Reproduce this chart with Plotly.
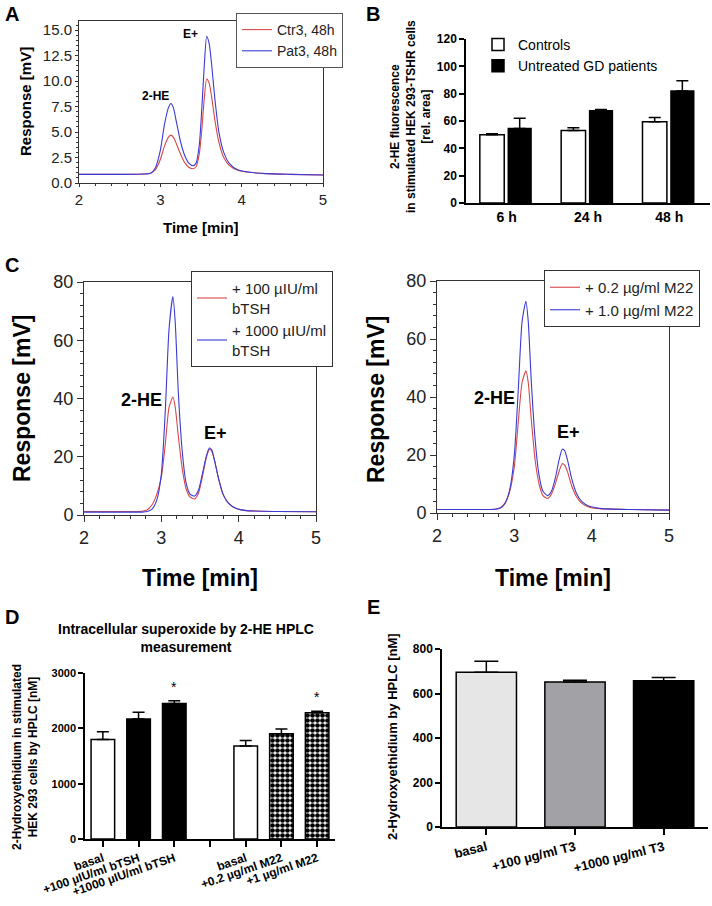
import plotly.graph_objects as go

W, H = 712, 906
FONT = "Arial, Liberation Sans, sans-serif"

# ---------------- DATA ----------------
# Panel A chromatogram (time in min, response in mV)
A_time = [2.0, 2.5, 2.8, 2.88, 2.94, 3.0, 3.05, 3.1, 3.13, 3.16, 3.2, 3.25, 3.3, 3.35, 3.4,
          3.44, 3.48, 3.51, 3.54, 3.57, 3.6, 3.63, 3.67, 3.72, 3.78, 3.85, 3.95, 4.1, 4.3, 4.6, 5.0]
A_ctr = [0.85, 0.85, 0.88, 0.95, 1.3, 2.3, 3.6, 4.5, 4.7, 4.5, 3.8, 2.8, 2.0, 1.55, 1.4,
         1.6, 2.9, 5.2, 8.3, 10.2, 9.8, 8.5, 6.2, 4.0, 2.5, 1.7, 1.25, 1.05, 0.92, 0.85, 0.78]
A_pat = [0.85, 0.85, 0.88, 0.95, 1.5, 3.2, 5.7, 7.4, 7.8, 7.4, 5.9, 4.0, 2.7, 1.95, 1.7,
         1.95, 3.8, 7.3, 11.5, 14.4, 13.7, 11.7, 8.3, 5.0, 3.0, 1.9, 1.3, 1.05, 0.92, 0.85, 0.78]
A_names = ["Ctr3, 48h", "Pat3, 48h"]

# Panel B
B_cats = ["6 h", "24 h", "48 h"]
B_ctrl = [50, 53, 59.5]
B_ctrl_err = [0.6, 2, 3]
B_pat = [54.5, 67.5, 82]
B_pat_err = [7.5, 1, 7.5]
B_names = ["Controls", "Untreated GD patients"]

# Panel C left (bTSH)
C1_time = [2.0, 2.5, 2.75, 2.82, 2.88, 2.94, 3.0, 3.05, 3.1, 3.15, 3.18, 3.22, 3.27, 3.32, 3.37,
           3.43, 3.48, 3.53, 3.58, 3.62, 3.65, 3.69, 3.74, 3.8, 3.87, 3.97, 4.1, 4.5, 5.0]
C1_low = [1.2, 1.2, 1.3, 1.8, 3.5, 7.0, 13, 24, 37, 40.5, 37, 27, 16, 9, 6.2,
          5.5, 7.5, 13, 19.5, 22.5, 22, 18.5, 12.5, 7.0, 4.0, 2.2, 1.5, 1.2, 1.1]
C1_high = [1.0, 1.0, 1.0, 1.2, 2.0, 5.0, 14, 35, 64, 75, 66, 42, 22, 11, 7.2,
           6.5, 8.5, 14, 20, 23, 22.5, 18.5, 12.5, 7.0, 4.0, 2.2, 1.5, 1.2, 1.1]
C1_names = ["+ 100 µIU/ml<br>bTSH", "+ 1000 µIU/ml<br>bTSH"]

# Panel C right (M22)
C2_time = C1_time
C2_low = [1.2, 1.2, 1.3, 1.8, 3.5, 7.5, 16, 31, 45, 49, 45, 32, 18, 10, 6.0,
          5.0, 6.5, 10, 14.5, 17, 16.5, 14, 9.5, 5.8, 3.4, 2.0, 1.5, 1.2, 1.0]
C2_high = [1.2, 1.2, 1.3, 1.7, 3.3, 8.0, 20, 42, 66, 73, 66, 45, 25, 13, 7.5,
           6.0, 7.5, 12, 18.5, 22, 21.5, 18, 12, 7.0, 4.0, 2.3, 1.6, 1.2, 1.0]
C2_names = ["+ 0.2 µg/ml M22", "+ 1.0 µg/ml M22"]

# Panel D
D_groups = [["basal", "+100 µIU/ml bTSH", "+1000 µIU/ml bTSH"],
            ["basal", "+0.2 µg/ml M22", "+1 µg/ml M22"]]
D_values = [[1800, 2170, 2450], [1680, 1900, 2280]]
D_err = [[140, 120, 50], [100, 90, 30]]
D_sig = [[False, False, True], [False, False, True]]
D_title = "Intracellular superoxide by 2-HE HPLC<br>measurement"

# Panel E
E_cats = ["basal", "+100 µg/ml T3", "+1000 µg/ml T3"]
E_values = [695, 652, 657]
E_err = [50, 8, 15]
E_colors = ["#e6e6e6", "#a2a2a6", "#000000"]

RED = "#d84848"
BLUE = "#3a3ad8"


def px_x(x):
    return x / W


def px_y(y):
    return 1 - y / H


fig = go.Figure()

# ---------- A ----------
for vals, col, nm in zip([A_ctr, A_pat], [RED, BLUE], A_names):
    fig.add_trace(go.Scatter(x=A_time, y=vals, mode="lines", name=nm,
                             line=dict(color=col, width=1.1, shape="spline", smoothing=0.6),
                             xaxis="x", yaxis="y", legend="legend"))

# ---------- B ----------
fig.add_trace(go.Bar(x=B_cats, y=B_ctrl, name=B_names[0], width=0.3, offset=-0.33,
                     marker=dict(color="white", line=dict(color="black", width=1.5)),
                     error_y=dict(type="data", array=B_ctrl_err, arrayminus=[0] * 3, symmetric=False,
                                  color="black", thickness=1.5, width=6),
                     xaxis="x2", yaxis="y2", legend="legend2"))
fig.add_trace(go.Bar(x=B_cats, y=B_pat, name=B_names[1], width=0.28, offset=0.02,
                     marker=dict(color="black", line=dict(color="black", width=1.5)),
                     error_y=dict(type="data", array=B_pat_err, arrayminus=[0] * 3, symmetric=False,
                                  color="black", thickness=1.5, width=6),
                     xaxis="x2", yaxis="y2", legend="legend2"))

# ---------- C left ----------
for vals, col, nm in zip([C1_low, C1_high], [RED, BLUE], C1_names):
    fig.add_trace(go.Scatter(x=C1_time, y=vals, mode="lines", name=nm,
                             line=dict(color=col, width=1.1, shape="spline", smoothing=0.6),
                             xaxis="x3", yaxis="y3", legend="legend3"))
# ---------- C right ----------
for vals, col, nm in zip([C2_low, C2_high], [RED, BLUE], C2_names):
    fig.add_trace(go.Scatter(x=C2_time, y=vals, mode="lines", name=nm,
                             line=dict(color=col, width=1.1, shape="spline", smoothing=0.6),
                             xaxis="x4", yaxis="y4", legend="legend4"))

# ---------- D ----------
D_x, D_ticktext, D_tickvals = [], [], []
slot = 0
for gi, grp in enumerate(D_groups):
    if gi > 0:
        D_tickvals.append(slot)
        D_ticktext.append("")
        slot += 1
    for lab in grp:
        D_tickvals.append(slot)
        D_ticktext.append(lab)
        D_x.append(slot)
        slot += 1

CHECK = dict(shape=".", fgcolor="black", bgcolor="white", size=5, solidity=0.7)
D_styles = [dict(color="white", pattern=None), dict(color="black", pattern=None),
            dict(color="black", pattern=None),
            dict(color="white", pattern=None),
            dict(color="white", pattern=CHECK),
            dict(color="white", pattern=CHECK)]
flatD = [v for g in D_values for v in g]
flatE = [v for g in D_err for v in g]
flatS = [v for g in D_sig for v in g]
for xv, v, e, st in zip(D_x, flatD, flatE, D_styles):
    mk = dict(color=st["color"], line=dict(color="black", width=1.5))
    if st["pattern"]:
        mk["pattern"] = st["pattern"]
    fig.add_trace(go.Bar(x=[xv], y=[v], width=0.66, showlegend=False, marker=mk,
                         error_y=dict(type="data", array=[e], arrayminus=[0], symmetric=False,
                                      color="black", thickness=1.5, width=6),
                         xaxis="x5", yaxis="y5"))

# ---------- E ----------
fig.add_trace(go.Bar(x=E_cats, y=E_values, width=0.68, showlegend=False,
                     marker=dict(color=E_colors, line=dict(color="black", width=1.5)),
                     error_y=dict(type="data", array=E_err, arrayminus=[0] * 3, symmetric=False,
                                  color="black", thickness=1.5, width=12),
                     xaxis="x6", yaxis="y6"))


# ---------- axes ----------
def chrom_axes(xd, yd, yrange, ytick, yfmt, tfs, yminor, tlen):
    common = dict(showline=True, linecolor="#333", linewidth=1, mirror=True, ticks="outside",
                  ticklen=tlen, tickcolor="#333", showgrid=False, zeroline=False, automargin=False,
                  tickfont=dict(family=FONT, size=tfs, color="#222"))
    xa_d = dict(common, domain=xd, range=[2, 5], tickvals=[2, 3, 4, 5],
                minor=dict(dtick=0.2, ticks="outside", ticklen=max(2, tlen // 2), tickcolor="#333"))
    ya_d = dict(common, domain=yd, range=yrange, dtick=ytick, tickformat=yfmt,
                minor=dict(dtick=yminor, ticks="outside", ticklen=max(2, tlen // 2), tickcolor="#333"))
    return xa_d, ya_d


xa1, ya1 = chrom_axes([px_x(79), px_x(323)], [px_y(183), px_y(21)], [0, 15.9], 2.5, ".1f", 15, 0.5, 3)
xa3, ya3 = chrom_axes([px_x(84), px_x(316)], [px_y(515), px_y(282)], [0, 80], 20, "d", 18, 4, 6)
xa4, ya4 = chrom_axes([px_x(437), px_x(669)], [px_y(513), px_y(281)], [0, 80], 20, "d", 18, 4, 6)
ya1.update(anchor="x")
xa1.update(anchor="y")
xa3.update(anchor="y3")
ya3.update(anchor="x3")
xa4.update(anchor="y4")
ya4.update(anchor="x4")


def bar_y(domy, rng, dt, anchor, tfs):
    return dict(domain=domy, range=rng, dtick=dt, anchor=anchor, showline=True, linecolor="black",
                linewidth=1.5, ticks="outside", ticklen=5, tickwidth=1.5, tickcolor="black",
                showgrid=False, zeroline=False, automargin=False,
                tickfont=dict(family=FONT, size=tfs, color="black", weight="bold"))


fig.update_layout(
    template="none",
    width=W, height=H, margin=dict(l=0, r=0, t=0, b=0, autoexpand=False),
    paper_bgcolor="white", plot_bgcolor="white", barmode="overlay",
    font=dict(family=FONT, color="black"),
    xaxis=xa1, yaxis=ya1,
    xaxis2=dict(domain=[px_x(466), px_x(710)], anchor="y2", type="category", range=[-0.5, 2.5],
                showline=True, linecolor="black", linewidth=1.5, ticks="", showgrid=False,
                automargin=False,
                tickfont=dict(family=FONT, size=14, color="black", weight="bold")),
    yaxis2=bar_y([px_y(203), px_y(39)], [0, 120], 20, "x2", 12),
    xaxis3=xa3, yaxis3=ya3, xaxis4=xa4, yaxis4=ya4,
    xaxis5=dict(domain=[px_x(85), px_x(335)], anchor="y5", range=[-0.5, 6.5],
                tickvals=D_tickvals, ticktext=D_ticktext, tickangle=-19,
                showline=True, linecolor="black", linewidth=1.5, ticks="outside", ticklen=6,
                tickwidth=1.5, tickcolor="black", showgrid=False, zeroline=False, automargin=False,
                tickfont=dict(family=FONT, size=12, color="black", weight="bold")),
    yaxis5=bar_y([px_y(839), px_y(673)], [0, 3000], 1000, "x5", 11),
    xaxis6=dict(domain=[px_x(442), px_x(708)], anchor="y6", type="category", range=[-0.5, 2.5],
                tickangle=-14, showline=True, linecolor="black", linewidth=1.5, ticks="outside",
                ticklen=6, tickwidth=1.5, tickcolor="black", showgrid=False, automargin=False,
                tickfont=dict(family=FONT, size=13, color="black", weight="bold")),
    yaxis6=bar_y([px_y(827), px_y(649)], [0, 800], 200, "x6", 12),
    legend=dict(x=px_x(236), y=px_y(13), xanchor="left", yanchor="top", bgcolor="white",
                bordercolor="#555", borderwidth=1, font=dict(family=FONT, size=14, color="#222"),
                tracegroupgap=0, itemwidth=30),
    legend2=dict(x=px_x(478), y=px_y(29), xanchor="left", yanchor="top", bgcolor="rgba(0,0,0,0)",
                 borderwidth=0, font=dict(family=FONT, size=14, color="black")),
    legend3=dict(x=px_x(191), y=px_y(271), xanchor="left", yanchor="top", bgcolor="white",
                 bordercolor="#333", borderwidth=1, font=dict(family=FONT, size=15, color="#222")),
    legend4=dict(x=px_x(544), y=px_y(270), xanchor="left", yanchor="top", bgcolor="white",
                 bordercolor="#333", borderwidth=1, font=dict(family=FONT, size=15, color="#222")),
)

ann = []


def add_text(text, x, y, size, bold=True, angle=0, color="black", xanchor="center", yanchor="middle"):
    ann.append(dict(text=text, x=px_x(x), y=px_y(y), xref="paper", yref="paper", showarrow=False,
                    textangle=angle, xanchor=xanchor, yanchor=yanchor,
                    font=dict(family=FONT, size=size, color=color, weight="bold" if bold else "normal")))


# panel letters
add_text("A", 12, 14, 20)
add_text("B", 373, 14, 20)
add_text("C", 12, 265, 20)
add_text("D", 12, 617, 20)
add_text("E", 373, 607, 20)
# A titles
add_text("Response [mV]", 25, 102, 15, angle=-90)
add_text("Time [min]", 201, 228, 15)
add_text("2-HE", 155, 96, 12)
add_text("E+", 190, 34, 12)
# B y title
add_text("2-HE fluorescence<br>in stimulated HEK 293-TSHR cells<br>[rel. area]", 410, 117, 12, angle=-90)
# C titles
add_text("Response [mV]", 22, 399, 23, angle=-90)
add_text("Time [min]", 200, 578, 23)
add_text("2-HE", 141, 400, 18)
add_text("E+", 215, 433, 18)
add_text("Response [mV]", 376, 399, 23, angle=-90)
add_text("Time [min]", 553, 578, 23)
add_text("2-HE", 494, 398, 18)
add_text("E+", 568, 432, 18)
# D titles
add_text(D_title, 186, 638, 14)
add_text("2-Hydroxyethidium in stimulated<br>HEK 293 cells by HPLC [nM]", 25, 757, 12, angle=-90)
# E title
add_text("2-Hydroxyethidium by HPLC [nM]", 392, 737, 13, angle=-90)

# significance stars (data coordinates)
for xv, v, e, s in zip(D_x, flatD, flatE, flatS):
    if s:
        ann.append(dict(text="*", x=xv, y=v + e, xref="x5", yref="y5", showarrow=False,
                        yanchor="bottom", yshift=4, font=dict(family=FONT, size=14, color="black")))

fig.update_layout(annotations=ann)
fig.write_html("out.html", config={"displayModeBar": False},
               post_script="document.body.style.margin='0';document.body.style.overflow='hidden';")
